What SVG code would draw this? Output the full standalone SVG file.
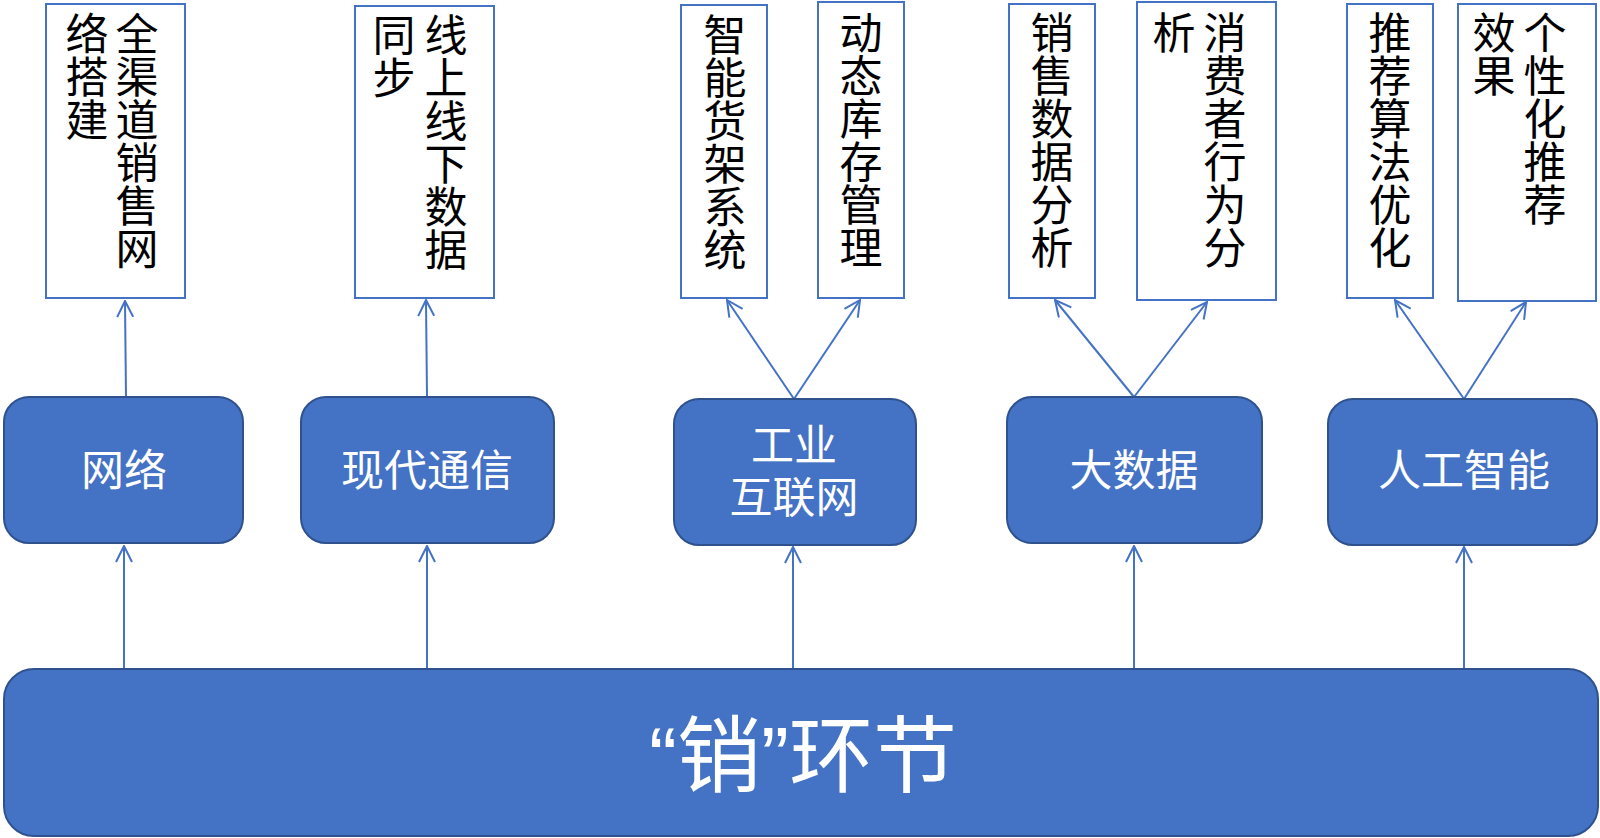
<svg xmlns="http://www.w3.org/2000/svg" width="1600" height="838" viewBox="0 0 1600 838">
<defs>
<style>
.box{fill:#ffffff;stroke:#4472C4;stroke-width:2}
.node{fill:#4472C4;stroke:#2F528F;stroke-width:2}
.vt{font-family:"Liberation Sans","Noto Sans CJK SC",sans-serif;font-size:43px;fill:#000;writing-mode:vertical-rl}
.lb{font-family:"Liberation Sans","Noto Sans CJK SC",sans-serif;font-size:43px;fill:#fff;text-anchor:middle;dominant-baseline:central}
.big{font-family:"Liberation Sans","Noto Sans CJK SC",sans-serif;font-size:84px;fill:#fff;text-anchor:middle;dominant-baseline:central}
.cn{fill:none;stroke:#4472C4;stroke-width:2;marker-end:url(#ah)}
</style>
<marker id="ah" viewBox="0 0 18 18" refX="17" refY="9" markerWidth="18" markerHeight="18" markerUnits="userSpaceOnUse" orient="auto">
<path d="M1,1 L17,9 L1,17" fill="none" stroke="#4472C4" stroke-width="2"/>
</marker>
</defs>

<g id="connectors">
<line class="cn" x1="124" y1="669" x2="124" y2="546"/>
<line class="cn" x1="427" y1="669" x2="427" y2="546"/>
<line class="cn" x1="793" y1="669" x2="793" y2="547"/>
<line class="cn" x1="1134" y1="669" x2="1134" y2="546"/>
<line class="cn" x1="1464" y1="669" x2="1464" y2="547"/>
<line class="cn" x1="126" y1="397" x2="125" y2="301"/>
<line class="cn" x1="427" y1="397" x2="426" y2="300"/>
<line class="cn" x1="794" y1="399" x2="727" y2="300"/>
<line class="cn" x1="794" y1="399" x2="860" y2="300"/>
<line class="cn" x1="1134" y1="397" x2="1055" y2="300"/>
<line class="cn" x1="1134" y1="397" x2="1207" y2="302"/>
<line class="cn" x1="1464" y1="399" x2="1395" y2="300"/>
<line class="cn" x1="1464" y1="399" x2="1526" y2="302"/>
</g>

<g id="top1"><rect class="box" x="46" y="4" width="139" height="294"/>
<text class="vt" x="133" y="12">全渠道销售网</text><text class="vt" x="83" y="12">络搭建</text></g>
<g id="top2"><rect class="box" x="355" y="6" width="139" height="292"/>
<text class="vt" x="442" y="13">线上线下数据</text><text class="vt" x="390" y="13">同步</text></g>
<g id="top3"><rect class="box" x="681" y="5" width="86" height="293"/>
<text class="vt" x="721" y="13">智能货架系统</text></g>
<g id="top4"><rect class="box" x="818" y="2" width="86" height="296"/>
<text class="vt" x="857" y="11">动态库存管理</text></g>
<g id="top5"><rect class="box" x="1009" y="4" width="86" height="294"/>
<text class="vt" x="1048" y="11">销售数据分析</text></g>
<g id="top6"><rect class="box" x="1137" y="2" width="139" height="298"/>
<text class="vt" x="1221" y="11">消费者行为分</text><text class="vt" x="1170" y="11">析</text></g>
<g id="top7"><rect class="box" x="1347" y="4" width="86" height="294"/>
<text class="vt" x="1386" y="11">推荐算法优化</text></g>
<g id="top8"><rect class="box" x="1458" y="4" width="138" height="297"/>
<text class="vt" x="1541" y="11">个性化推荐</text><text class="vt" x="1490" y="11">效果</text></g>

<g id="n1"><rect class="node" x="4" y="397" width="239" height="146" rx="25"/><text class="lb" x="124" y="471">网络</text></g>
<g id="n2"><rect class="node" x="301" y="397" width="253" height="146" rx="25"/><text class="lb" x="427" y="471">现代通信</text></g>
<g id="n3"><rect class="node" x="674" y="399" width="242" height="146" rx="25"/><text class="lb" x="794" y="446">工业</text><text class="lb" x="794" y="498">互联网</text></g>
<g id="n4"><rect class="node" x="1007" y="397" width="255" height="146" rx="25"/><text class="lb" x="1134" y="471">大数据</text></g>
<g id="n5"><rect class="node" x="1328" y="399" width="269" height="146" rx="25"/><text class="lb" x="1464" y="471">人工智能</text></g>

<g id="bottom"><rect class="node" x="4" y="669" width="1594" height="167" rx="30"/><text class="big" x="803" y="757">“销”环节</text></g>
</svg>
